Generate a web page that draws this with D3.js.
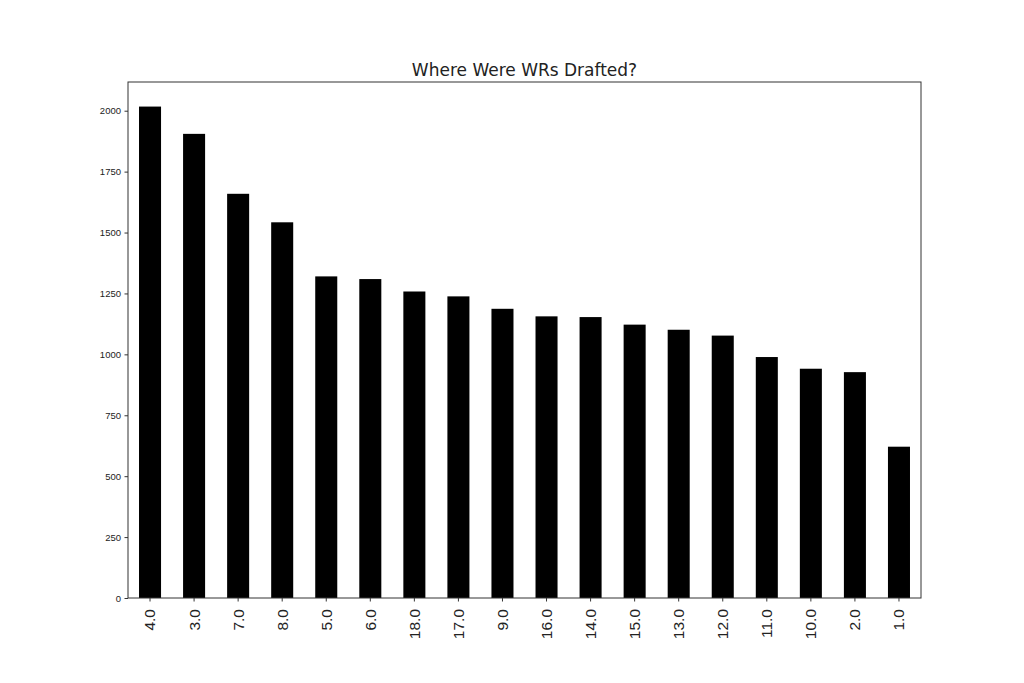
<!DOCTYPE html>
<html>
<head>
<meta charset="utf-8">
<script src="https://cdn.jsdelivr.net/npm/d3@7"></script>
<style>
  body { margin: 0; background: #fff; }
  svg { display: block; font-family: "DejaVu Sans", sans-serif; }
</style>
</head>
<body>
<div id="chart"></div>
<script>
// draft round -> count, in the order the bars appear
const rounds = ["4.0", "3.0", "7.0", "8.0", "5.0", "6.0", "18.0", "17.0", "9.0",
                "16.0", "14.0", "15.0", "13.0", "12.0", "11.0", "10.0", "2.0", "1.0"];
const counts = [2017, 1905, 1659, 1542, 1320, 1309, 1258, 1238, 1187,
                1156, 1153, 1122, 1101, 1077, 989, 941, 927, 621];
const yTicks = [0, 250, 500, 750, 1000, 1250, 1500, 1750, 2000];

const width = 1024, height = 683;
const margin = { top: 82, right: 103, bottom: 85, left: 128 };

const data = rounds.map((r, i) => ({ round: r, count: counts[i] }));

const svg = d3.select("#chart").append("svg")
    .attr("width", width)
    .attr("height", height);

const x = d3.scaleBand()
    .domain(rounds)
    .range([margin.left, width - margin.right])
    .paddingInner(0.5)
    .paddingOuter(0.25);

// matplotlib-ish 5% headroom
const y = d3.scaleLinear()
    .domain([0, d3.max(counts) * 1.05])
    .range([height - margin.bottom, margin.top]);

svg.append("g")
    .selectAll("rect")
    .data(data)
    .join("rect")
    .attr("x", d => x(d.round))
    .attr("y", d => y(d.count))
    .attr("width", x.bandwidth())
    .attr("height", d => y(0) - y(d.count))
    .attr("fill", "#000");

// y axis
const yAxis = svg.append("g")
    .attr("transform", `translate(${margin.left},0)`)
    .call(d3.axisLeft(y).tickValues(yTicks).tickSize(3.5).tickPadding(3.5).tickFormat(d3.format("d")));
yAxis.select(".domain").remove();
yAxis.selectAll("text").style("font-size", "9.5px").attr("fill", "#222");
yAxis.selectAll("line").attr("stroke", "#333");

// x axis
const xAxis = svg.append("g")
    .attr("transform", `translate(0,${height - margin.bottom})`)
    .call(d3.axisBottom(x).tickSize(3.5).tickPadding(0));
xAxis.select(".domain").remove();
xAxis.selectAll("line").attr("stroke", "#333");
xAxis.selectAll("text")
    .style("font-size", "15.5px")
    .attr("fill", "#222")
    .attr("transform", "rotate(-90)")
    .attr("text-anchor", "end")
    .attr("x", -11)
    .attr("y", 0)
    .attr("dy", "0.35em");

// frame
svg.append("rect")
    .attr("x", margin.left)
    .attr("y", margin.top)
    .attr("width", width - margin.left - margin.right)
    .attr("height", height - margin.top - margin.bottom)
    .attr("fill", "none")
    .attr("stroke", "#333")
    .attr("stroke-width", 1);

svg.append("text")
    .attr("x", (margin.left + width - margin.right) / 2)
    .attr("y", margin.top - 6)
    .attr("text-anchor", "middle")
    .style("font-size", "17px")
    .attr("fill", "#222")
    .text("Where Were WRs Drafted?");
</script>
</body>
</html>
